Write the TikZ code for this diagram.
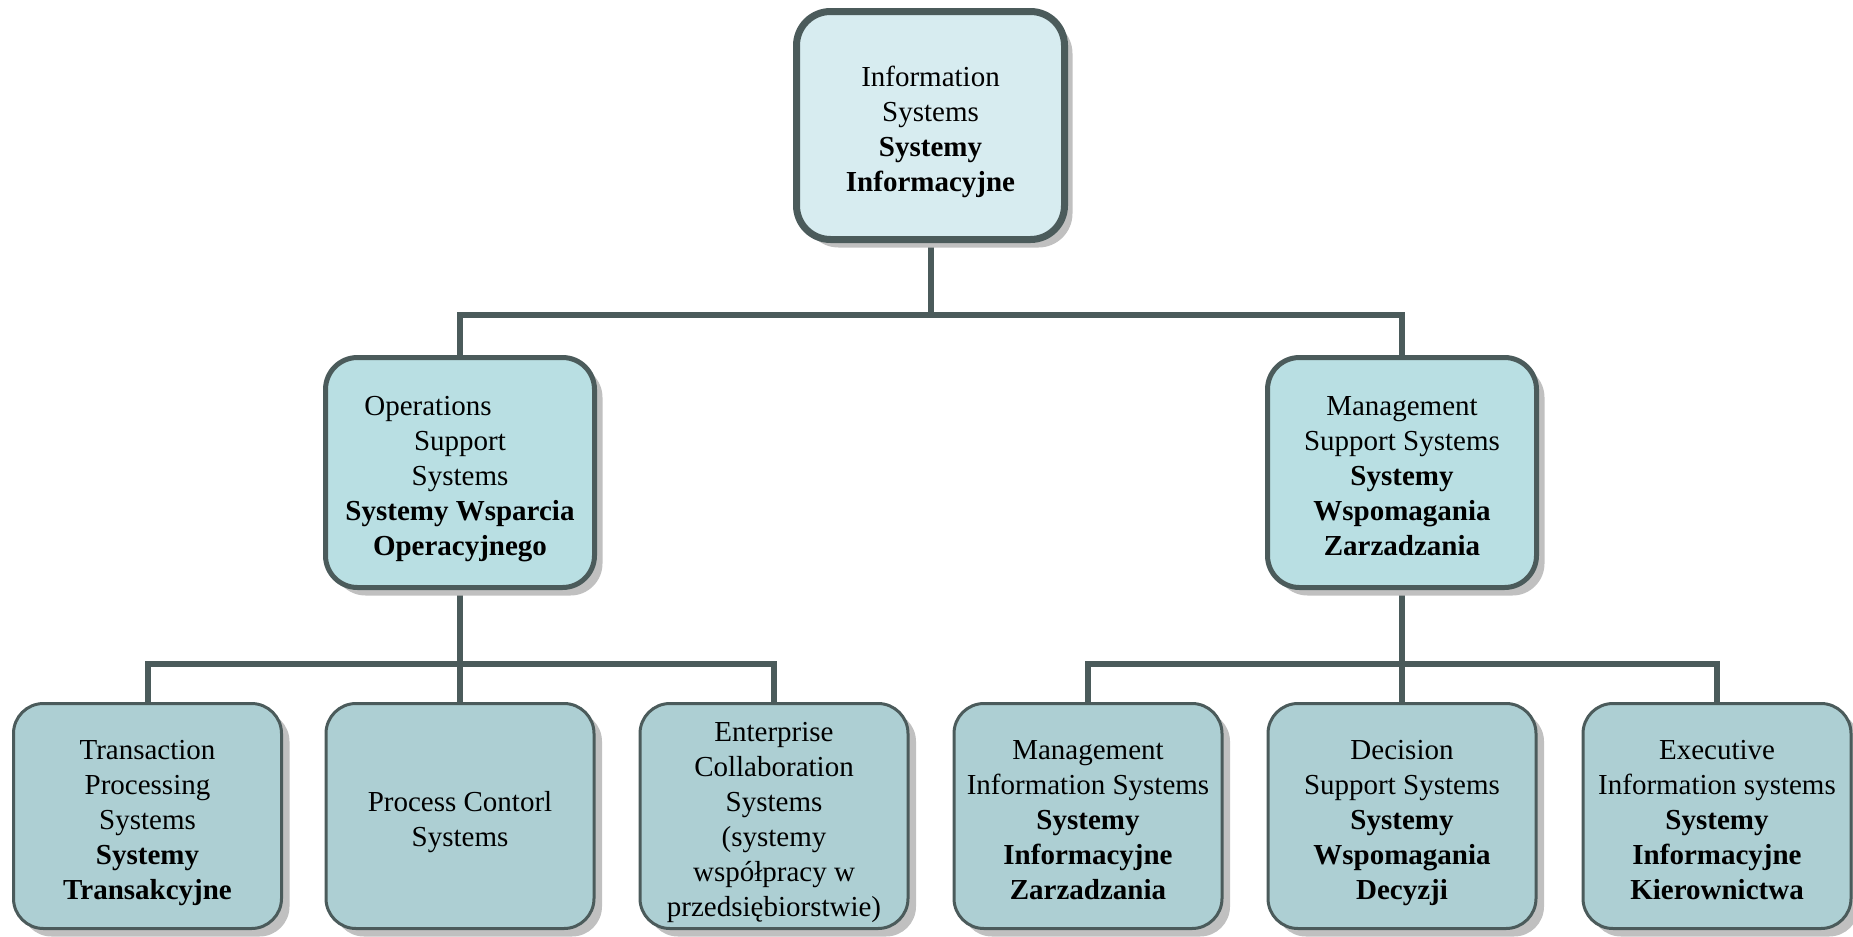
\documentclass[tikz,border=0pt]{standalone}
\usepackage{fontspec}
\setmainfont{Liberation Serif}
\usetikzlibrary{shadows,backgrounds}

\definecolor{edgegray}{HTML}{4B5B5B}
\definecolor{topfill}{HTML}{D7ECF0}
\definecolor{midfill}{HTML}{B9DFE3}
\definecolor{lowfill}{HTML}{ADCFD3}
\definecolor{shadowgray}{HTML}{C0C0C0}

% struts: fixed height of the first line and fixed depth of the last line
\newcommand\ts{\rule{0pt}{33.2pt}}
\newcommand\bs{\rule[-7pt]{0pt}{7pt}}

\tikzset{
  orgbox/.style={rounded corners=30pt, draw=edgegray, align=center, inner sep=0pt,
    font=\fontsize{29}{35}\selectfont,
    drop shadow={shadow xshift=8pt, shadow yshift=-8pt, fill=shadowgray, opacity=1}},
  topbox/.style={orgbox, fill=topfill, line width=7pt, minimum width=268pt, minimum height=228pt, rounded corners=34pt},
  midbox/.style={orgbox, fill=midfill, line width=5pt, minimum width=269pt, minimum height=230pt, rounded corners=32pt},
  lowbox/.style={orgbox, fill=lowfill, line width=3pt, minimum width=268pt, minimum height=225pt, rounded corners=30pt},
  conn/.style={draw=edgegray, line width=6pt}
}

\begin{document}
\begin{tikzpicture}[x=1pt, y=-1pt]
\useasboundingbox (0,0) rectangle (1853,937);

% top level
\node[topbox] (is) at (930.5,125.5) {\ts Information\\Systems\\\textbf{Systemy}\\\textbf{Informacyjne}\bs};

% second level
\node[midbox] (oss) at (460,472.5) {\ts Operations\hspace*{64pt}\\Support\\Systems\\\textbf{Systemy Wsparcia}\\\textbf{Operacyjnego}\bs};
\node[midbox] (mss) at (1402,472.5) {\ts Management\\Support Systems\\\textbf{Systemy}\\\textbf{Wspomagania}\\\textbf{Zarzadzania}\bs};

% third level
\node[lowbox] (tps) at (147.5,816) {\ts Transaction\\Processing\\Systems\\\textbf{Systemy}\\\textbf{Transakcyjne}\bs};
\node[lowbox] (pcs) at (460,816) {\ts Process Contorl\\Systems\bs};
\node[lowbox] (ecs) at (774,816) {\ts Enterprise\\Collaboration\\Systems\\(systemy\\współpracy w\\przedsiębiorstwie)\bs};
\node[lowbox] (mis) at (1088,816) {\ts Management\\Information Systems\\\textbf{Systemy}\\\textbf{Informacyjne}\\\textbf{Zarzadzania}\bs};
\node[lowbox] (dss) at (1402,816) {\ts Decision\\Support Systems\\\textbf{Systemy}\\\textbf{Wspomagania}\\\textbf{Decyzji}\bs};
\node[lowbox] (eis) at (1717,816) {\ts Executive\\Information systems\\\textbf{Systemy}\\\textbf{Informacyjne}\\\textbf{Kierownictwa}\bs};

% bus junctions
\coordinate (busA) at (is.south |- 0,314.5);
\coordinate (busB) at (oss.south |- 0,664);
\coordinate (busC) at (mss.south |- 0,664);

\begin{scope}[on background layer]
  \draw[conn] (is.south) -- (busA) -| (oss.north);
  \draw[conn] (busA) -| (mss.north);
  \draw[conn] (oss.south) -- (busB) -| (tps.north);
  \draw[conn] (busB) -- (pcs.north);
  \draw[conn] (busB) -| (ecs.north);
  \draw[conn] (mss.south) -- (busC) -| (mis.north);
  \draw[conn] (busC) -- (dss.north);
  \draw[conn] (busC) -| (eis.north);
\end{scope}
\end{tikzpicture}
\end{document}
